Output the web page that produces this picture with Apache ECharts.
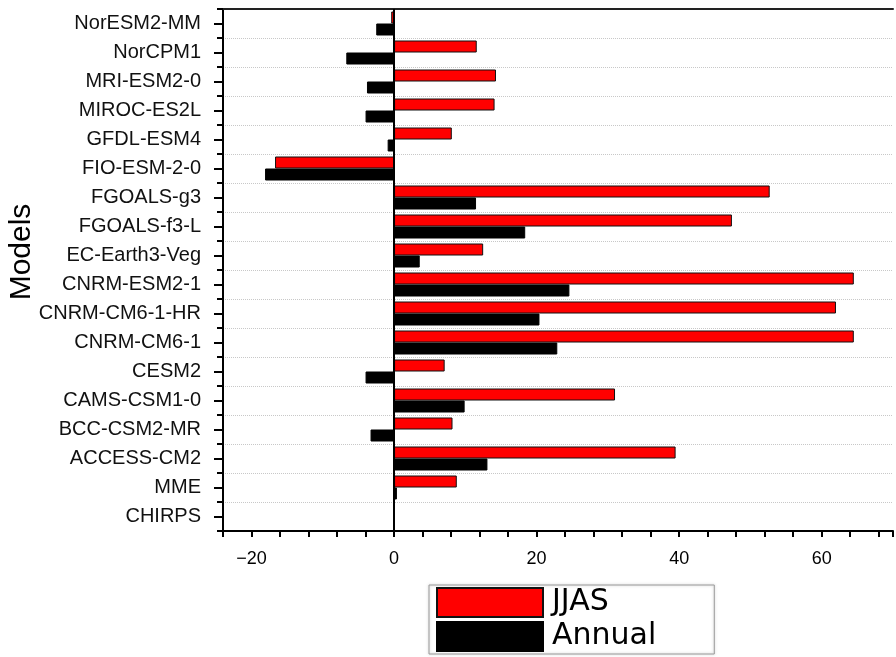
<!DOCTYPE html>
<html>
<head>
<meta charset="utf-8">
<script src="https://cdn.jsdelivr.net/npm/echarts@6/dist/echarts.min.js"></script>
<style>
  html, body { margin: 0; padding: 0; background: #fff; }
  #chart-container { width: 896px; height: 657px; }
</style>
</head>
<body>
<div id="chart-container"></div>
<script>
// top to bottom, as in the figure
const models = [
  'NorESM2-MM', 'NorCPM1', 'MRI-ESM2-0', 'MIROC-ES2L', 'GFDL-ESM4',
  'FIO-ESM-2-0', 'FGOALS-g3', 'FGOALS-f3-L', 'EC-Earth3-Veg', 'CNRM-ESM2-1',
  'CNRM-CM6-1-HR', 'CNRM-CM6-1', 'CESM2', 'CAMS-CSM1-0', 'BCC-CSM2-MR',
  'ACCESS-CM2', 'MME', 'CHIRPS'
];
const jjas = [-0.4, 11.6, 14.3, 14.1, 8.1, -16.7, 52.7, 47.4, 12.5, 64.5,
  62.0, 64.5, 7.1, 31.0, 8.2, 39.5, 8.8, 0];
const annual = [-2.5, -6.7, -3.8, -4.0, -0.9, -18.1, 11.5, 18.4, 3.6, 24.6,
  20.4, 22.9, -4.0, 9.9, -3.3, 13.1, 0.4, 0];

const xMin = -24, xMax = 70, xStep = 4;

function init() {
  let font = '"Liberation Sans", Arial, sans-serif';

  let option = {
    animation: false,
    grid: { left: 223, right: 2, top: 9, bottom: 126 },
    legend: {
      data: ['JJAS', 'Annual'],
      orient: 'vertical',
      left: 429,
      top: 585,
      itemWidth: 106,
      itemHeight: 29,
      itemGap: 3,
      icon: 'rect',
      padding: [2, 58, 2, 7],
      borderColor: '#999',
      borderWidth: 1,
      shadowColor: 'rgba(0,0,0,0.25)',
      shadowBlur: 3,
      textStyle: {
        fontFamily: '"DejaVu Sans", sans-serif',
        fontSize: 30,
        color: '#000',
        lineHeight: 29,
        padding: [0, 0, 0, 4]
      }
    },
    xAxis: [
      {
        type: 'value',
        min: xMin,
        max: xMax,
        interval: xStep,
        axisLine: { show: true, onZero: false, lineStyle: { color: '#000', width: 2 } },
        axisTick: { show: true, length: 6, lineStyle: { color: '#000', width: 2 } },
        axisLabel: {
          fontFamily: font,
          fontSize: 18,
          color: '#000',
          margin: 19,
          formatter: function (v) {
            return v % 20 === 0 ? String(v).replace('-', '\u2212') : '';
          }
        },
        splitLine: { show: false }
      },
      {
        type: 'value',
        position: 'top',
        min: xMin,
        max: xMax,
        axisLine: { show: true, onZero: false, lineStyle: { color: '#222', width: 2 } },
        axisTick: { show: false },
        axisLabel: { show: false },
        splitLine: { show: false }
      }
    ],
    yAxis: [
      {
        type: 'category',
        data: models,
        inverse: true,
        position: 'left',
        axisLine: { show: true, onZero: false, lineStyle: { color: '#000', width: 2 } },
        axisTick: { show: true, alignWithLabel: true, length: 9, lineStyle: { color: '#000', width: 2 } },
        axisLabel: { fontFamily: font, fontSize: 20, color: '#111', margin: 22 },
        splitLine: { show: false }
      },
      {
        // boundary ticks + dotted separators
        type: 'category',
        data: models,
        inverse: true,
        position: 'left',
        offset: 0,
        axisLine: { show: false, onZero: false },
        axisTick: { show: true, length: 6, lineStyle: { color: '#000', width: 2 } },
        axisLabel: { show: false },
        splitLine: { show: true, lineStyle: { color: '#c8c8c8', type: 'dotted', width: 1 } }
      }
    ],
    graphic: [
      {
        type: 'text',
        x: 22,
        y: 252,
        rotation: Math.PI / 2,
        style: {
          text: 'Models',
          font: '30px ' + font,
          fill: '#000',
          align: 'center',
          verticalAlign: 'middle'
        }
      }
    ],
    series: [
      {
        name: 'JJAS',
        type: 'bar',
        data: jjas,
        barWidth: 12,
        barGap: '0%',
        itemStyle: { color: '#ff0000', borderColor: '#111', borderWidth: 1 },
        markLine: {
          silent: true,
          symbol: ['none', 'none'],
          label: { show: false },
          lineStyle: { color: '#000', width: 2, type: 'solid' },
          data: [{ xAxis: 0 }]
        }
      },
      {
        name: 'Annual',
        type: 'bar',
        data: annual,
        barWidth: 12,
        barGap: '0%',
        itemStyle: { color: '#000', borderColor: '#000', borderWidth: 1 }
      }
    ]
  };

  var myChart = echarts.init(document.getElementById('chart-container'));
  myChart.setOption(option);
  window.addEventListener('resize', myChart.resize);
}
init();
</script>
</body>
</html>
